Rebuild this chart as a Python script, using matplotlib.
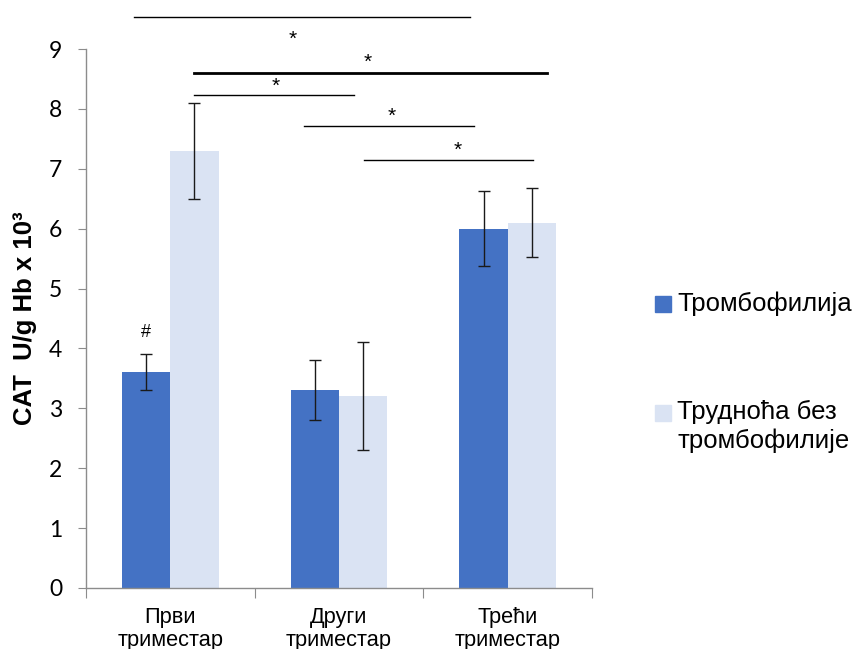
import matplotlib
matplotlib.use("Agg")
import matplotlib.pyplot as plt
import numpy as np
from matplotlib.patches import Rectangle

categories = ["Први\nтриместар", "Други\nтриместар", "Трећи\nтриместар"]
thrombophilia = [3.6, 3.3, 6.0]
thrombophilia_err = [0.3, 0.5, 0.63]
no_thrombophilia = [7.3, 3.2, 6.1]
no_thrombophilia_err = [0.8, 0.9, 0.58]
series_labels = ["Тромбофилија", "Трудноћа без\nтромбофилије"]
yticks = list(range(0, 10))

# significance brackets: (x start, x end, y, linewidth) and star positions (x, y)
brackets = [(-0.214, 1.774, 9.53, 1.0), (0.143, 2.232, 8.60, 2.0), (0.140, 1.089, 8.24, 1.0),
            (0.792, 1.798, 7.72, 1.0), (1.149, 2.149, 7.15, 1.0)]
stars = [(0.726, 9.16), (1.173, 8.77), (0.625, 8.37), (1.31, 7.87), (1.702, 7.30)]

BLUE = "#4472C4"
LIGHT = "#DAE3F3"
GREY = "#8c8c8c"

fig = plt.figure(figsize=(8.57, 6.49), dpi=100)
ax = fig.add_axes([86 / 857, 61 / 649, 506 / 857, 539 / 649])

x = np.arange(len(categories))
w = 0.2857
err_kw = dict(ecolor="#1a1a1a", elinewidth=1.0, capsize=4, capthick=1.0)
ax.bar(x - w / 2, thrombophilia, w, color=BLUE, yerr=thrombophilia_err, error_kw=err_kw, zorder=2)
ax.bar(x + w / 2, no_thrombophilia, w, color=LIGHT, yerr=no_thrombophilia_err, error_kw=err_kw, zorder=2)

ax.set_xlim(-0.5, 2.5)
ax.set_ylim(0, 9)
ax.set_yticks(yticks)
ax.set_yticklabels([str(t) for t in yticks], fontfamily="Lato", fontsize=16.5)
ax.tick_params(axis="y", length=6, color=GREY, pad=11)

ax.set_xticks([-0.5, 0.5, 1.5, 2.5])
ax.set_xticklabels([])
ax.tick_params(axis="x", which="major", length=7, color=GREY)
ax.set_xticks(x, minor=True)
ax.set_xticklabels(categories, minor=True, fontfamily="Liberation Sans", fontsize=15.7, linespacing=1.07)
ax.tick_params(axis="x", which="minor", length=0, pad=14)

for s in ["top", "right"]:
    ax.spines[s].set_visible(False)
for s in ["left", "bottom"]:
    ax.spines[s].set_color(GREY)
    ax.spines[s].set_linewidth(1.0)

ax.set_ylabel("CAT  U/g Hb x 10³", fontfamily="Liberation Sans", fontweight="bold", fontsize=18.5)
ax.yaxis.set_label_coords(-0.097, 0.5)

for x0, x1, y, lw in brackets:
    ax.plot([x0, x1], [y, y], color="black", lw=lw, clip_on=False, zorder=3)
for sx, sy in stars:
    ax.text(sx, sy, "*", ha="center", va="center", fontsize=15,
            fontfamily="Liberation Sans", clip_on=False)
ax.text(x[0] - w / 2, 4.27, "#", ha="center", va="center", fontsize=13,
        fontfamily="Liberation Sans")

# legend drawn by hand to match the original placement
H = 649.0
for color, label, yc in zip([BLUE, LIGHT], series_labels, [304, 413]):
    fig.patches.append(Rectangle((655 / 857, (H - yc - 8) / H), 16 / 857, 16 / H,
                                 transform=fig.transFigure, color=color))
    fig.text(677 / 857, (H - yc + 13) / H, label, ha="left", va="top", fontsize=18.5,
             fontfamily="Liberation Sans", linespacing=1.25)

fig.savefig("out.png", dpi=100)
